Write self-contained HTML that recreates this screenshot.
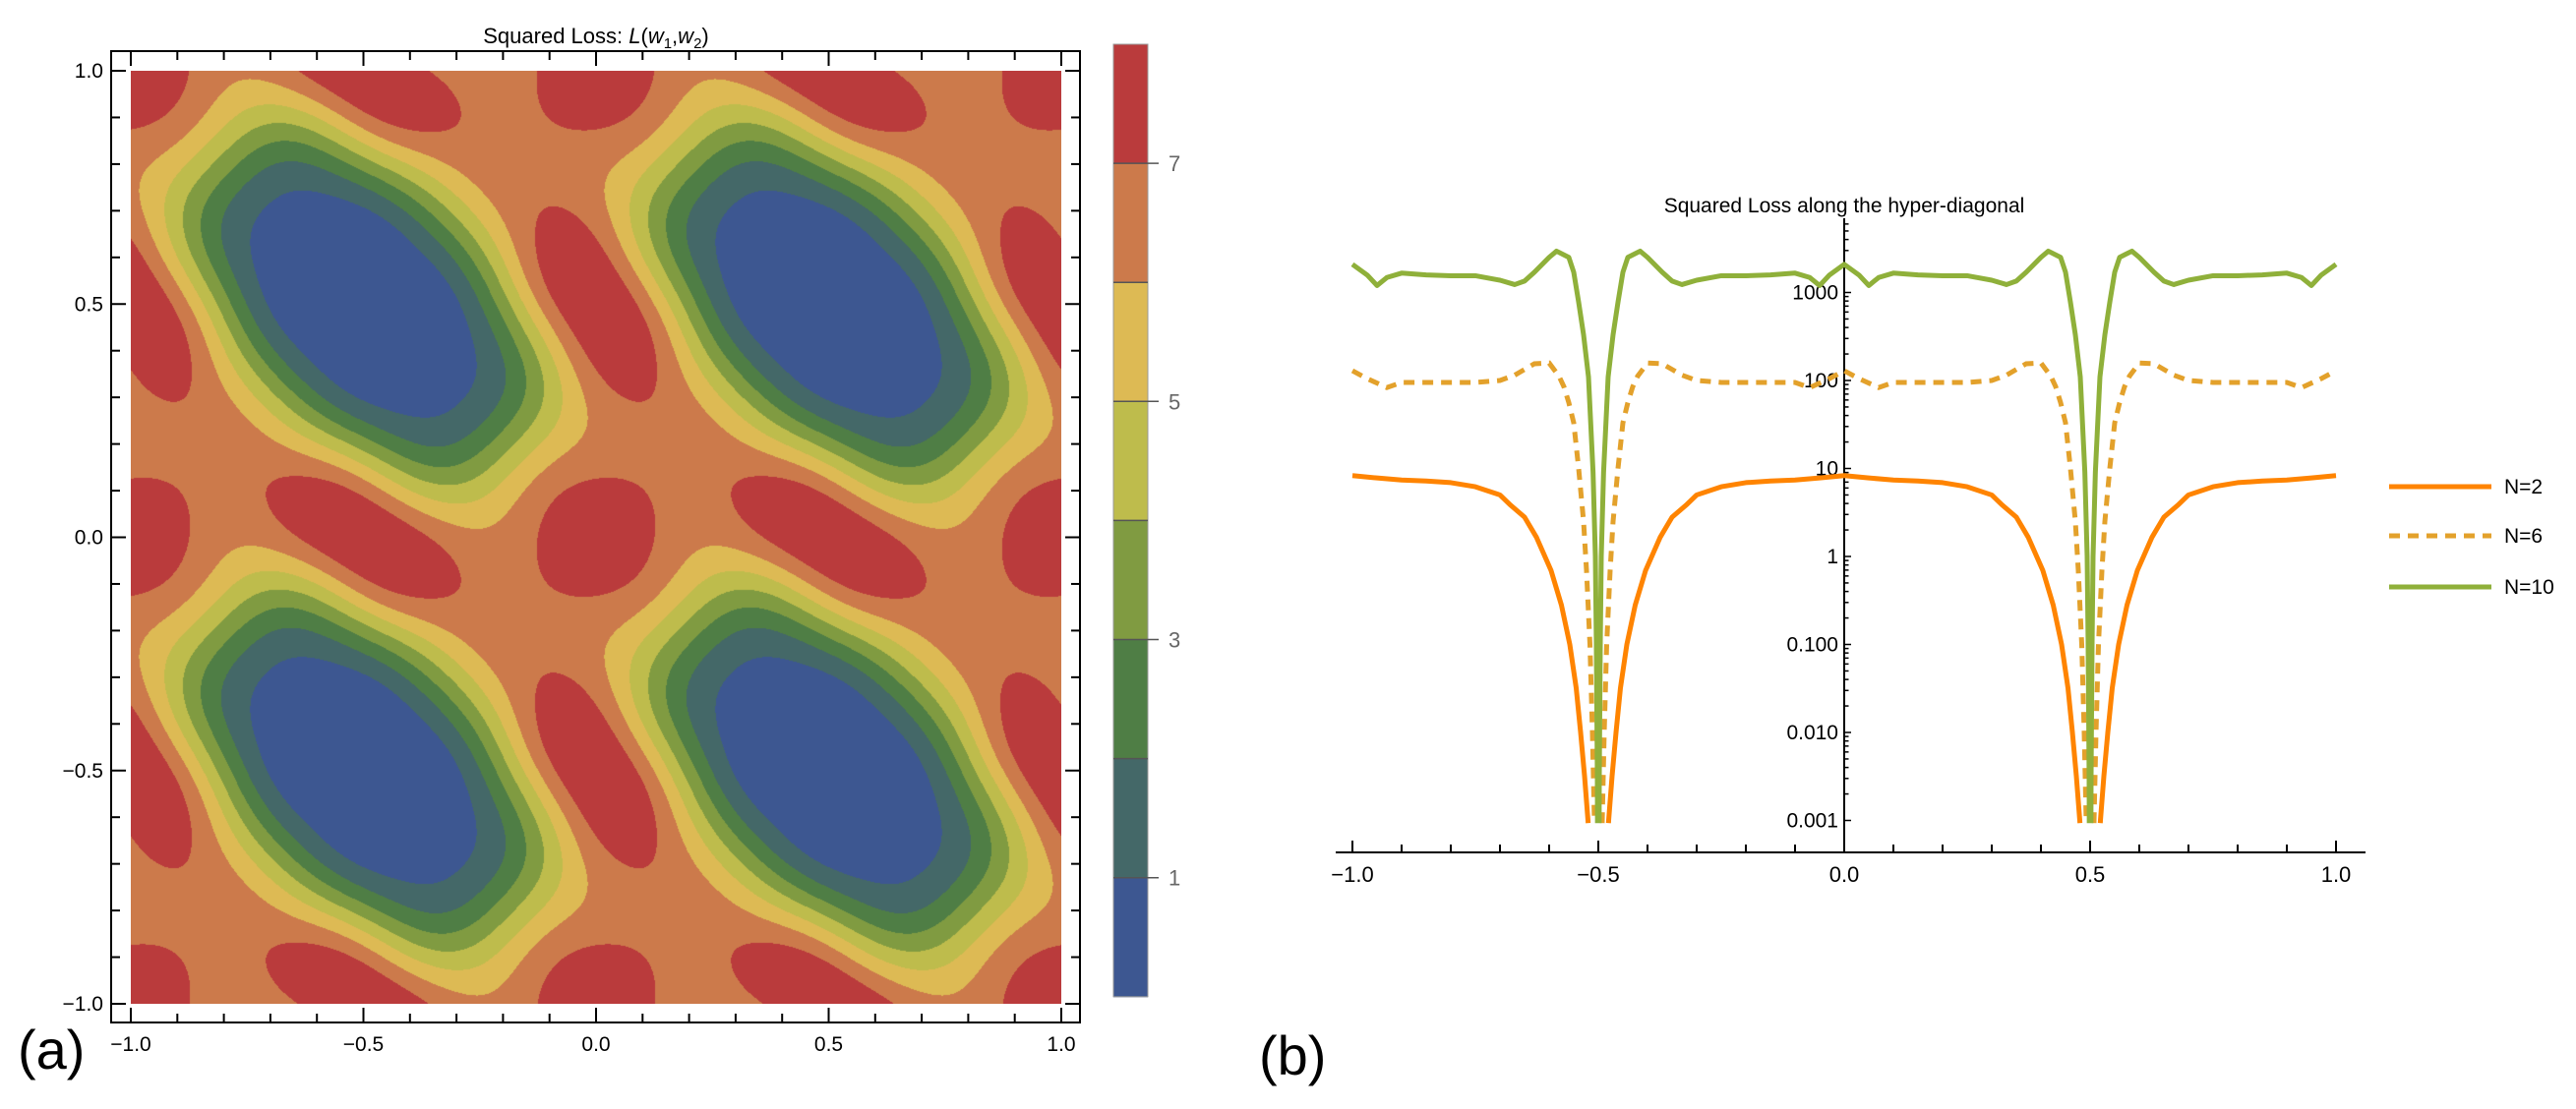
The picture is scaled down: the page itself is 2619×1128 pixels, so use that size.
<!DOCTYPE html>
<html><head><meta charset="utf-8">
<style>
html,body{margin:0;padding:0;background:#fff;}
#wrap{position:relative;width:2619px;height:1128px;overflow:hidden;font-family:"Liberation Sans",sans-serif;}
#contour{position:absolute;left:133px;top:72px;}
#svg{position:absolute;left:0;top:0;}
</style></head>
<body>
<div id="wrap">
<canvas id="contour" width="946" height="949"></canvas>
<svg id="svg" width="2619" height="1128" xmlns="http://www.w3.org/2000/svg"></svg>
</div>
<script>
// ---------- Panel (a) data: loss samples over one period (rows: w2 = 1 - j/8, cols: w1 = -1 + i/8)
const lossRow0 = [8.0, 6.7, 6.0, 7.1, 7.7, 7.2, 6.4, 7.1];
const lossRow1 = [7.0, 6.0, 4.0, 3.65, 6.2, 6.7, 6.7, 7.0];
const lossRow2 = [6.0, 3.5, 1.6, 1.0, 1.5, 4.7, 6.3, 7.0];
const lossRow3 = [7.2, 3.65, 1.0, 0.4, 0.4, 1.3, 2.4, 7.1];
const lossRow4 = [7.6, 6.2, 1.8, 0.4, 0.0, 0.4, 1.8, 6.9];
const lossRow5 = [7.4, 6.7, 4.7, 1.3, 0.4, 0.4, 1.2, 3.8];
const lossRow6 = [6.8, 6.6, 6.2, 4.0, 1.6, 1.2, 2.0, 4.8];
const lossRow7 = [7.0, 6.7, 6.8, 7.2, 6.9, 3.8, 4.8, 6.0];
const levelColors = ["#3D5791","#446868","#4F7E45","#809B41","#BEBC4C","#DDBA54","#CC7A4B","#BA3B3C"];
const colorbarTicks = [1, 3, 5, 7];

// ---------- Panel (b) data
const n2X = [-1,-0.95,-0.9,-0.85,-0.8,-0.75,-0.7,-0.68,-0.65,-0.626,-0.596,-0.575,-0.558,-0.545,-0.536,-0.528,-0.521,-0.515,-0.5,
 -0.485,-0.479,-0.472,-0.464,-0.455,-0.442,-0.425,-0.404,-0.374,-0.35,-0.32,-0.3,-0.25,-0.2,-0.15,-0.1,-0.05,0,
 0.05,0.1,0.15,0.2,0.25,0.3,0.32,0.35,0.374,0.404,0.425,0.442,0.455,0.464,0.472,0.479,0.485,0.5,
 0.515,0.521,0.528,0.536,0.545,0.558,0.575,0.596,0.626,0.65,0.68,0.7,0.75,0.8,0.85,0.9,0.95,1];
const n2Y = [8.3,7.8,7.4,7.2,6.9,6.2,5.0,3.9,2.8,1.66,0.69,0.28,0.1,0.032,0.01,0.0032,0.001,0.00025,1e-6,
 0.00025,0.001,0.0032,0.01,0.032,0.1,0.28,0.69,1.66,2.8,3.9,5.0,6.2,6.9,7.2,7.4,7.8,8.3,
 7.8,7.4,7.2,6.9,6.2,5.0,3.9,2.8,1.66,0.69,0.28,0.1,0.032,0.01,0.0032,0.001,0.00025,1e-6,
 0.00025,0.001,0.0032,0.01,0.032,0.1,0.28,0.69,1.66,2.8,3.9,5.0,6.2,6.9,7.2,7.4,7.8,8.3];
const n6X = [-1,-0.97,-0.93,-0.9,-0.85,-0.8,-0.75,-0.7,-0.67,-0.63,-0.6,-0.58,-0.57,-0.56,-0.55,-0.54,-0.53,-0.524,-0.517,-0.512,-0.508,-0.504,-0.5,
 -0.496,-0.492,-0.488,-0.483,-0.476,-0.47,-0.46,-0.45,-0.44,-0.43,-0.42,-0.4,-0.37,-0.33,-0.3,-0.25,-0.2,-0.15,-0.1,-0.07,-0.03,0,
 0.03,0.07,0.1,0.15,0.2,0.25,0.3,0.33,0.37,0.4,0.42,0.43,0.44,0.45,0.46,0.47,0.476,0.483,0.488,0.492,0.496,0.5,
 0.504,0.508,0.512,0.517,0.524,0.53,0.54,0.55,0.56,0.57,0.58,0.6,0.63,0.67,0.7,0.75,0.8,0.85,0.9,0.93,0.97,1];
const n6Y = [129,105,83,95,95,95,95,100,115,155,158,112,85,56,33,10,2.5,0.69,0.1,0.01,0.001,0.00003,1e-6,
 0.00003,0.001,0.01,0.1,0.69,2.5,10,33,56,85,112,158,155,115,100,95,95,95,95,83,105,129,
 105,83,95,95,95,95,100,115,155,158,112,85,56,33,10,2.5,0.69,0.1,0.01,0.001,0.00003,1e-6,
 0.00003,0.001,0.01,0.1,0.69,2.5,10,33,56,85,112,158,155,115,100,95,95,95,95,83,105,129];
const n10X = [-1,-0.97,-0.95,-0.93,-0.9,-0.85,-0.8,-0.75,-0.7,-0.67,-0.65,-0.63,-0.6,-0.585,-0.56,-0.55,-0.54,-0.53,-0.52,-0.5107,-0.506,-0.504,-0.502,-0.5,
 -0.498,-0.496,-0.494,-0.4893,-0.48,-0.47,-0.46,-0.45,-0.44,-0.415,-0.4,-0.37,-0.35,-0.33,-0.3,-0.25,-0.2,-0.15,-0.1,-0.07,-0.05,-0.03,0,
 0.03,0.05,0.07,0.1,0.15,0.2,0.25,0.3,0.33,0.35,0.37,0.4,0.415,0.44,0.45,0.46,0.47,0.48,0.4893,0.494,0.496,0.498,0.5,
 0.502,0.504,0.506,0.5107,0.52,0.53,0.54,0.55,0.56,0.585,0.6,0.63,0.65,0.67,0.7,0.75,0.8,0.85,0.9,0.93,0.95,0.97,1];
const n10Y = [2090,1580,1200,1480,1660,1585,1550,1550,1380,1230,1350,1700,2510,2950,2510,1700,776,331,110,9.1,1,0.1,0.0032,1e-6,
 0.0032,0.1,1,9.1,110,331,776,1700,2510,2950,2510,1700,1350,1230,1380,1550,1550,1585,1660,1480,1200,1580,2090,
 1580,1200,1480,1660,1585,1550,1550,1380,1230,1350,1700,2510,2950,2510,1700,776,331,110,9.1,1,0.1,0.0032,1e-6,
 0.0032,0.1,1,9.1,110,331,776,1700,2510,2950,2510,1700,1350,1230,1380,1550,1550,1585,1660,1480,1200,1580,2090];
const xTickValues = [-1,-0.5,0,0.5,1];
const xTickLabels = ["\u22121.0","\u22120.5","0.0","0.5","1.0"];
const logTickValues = [0.001,0.01,0.1,1,10,100,1000];
const logTickLabels = ["0.001","0.010","0.100","1","10","100","1000"];
const legendLabels = ["N=2","N=6","N=10"];

const NS = "http://www.w3.org/2000/svg";
const svg = document.getElementById('svg');
function mk(tag, attrs, parent) {
  const e = document.createElementNS(NS, tag);
  for (const k in attrs) e.setAttribute(k, attrs[k]);
  (parent || svg).appendChild(e);
  return e;
}

// ---------- Panel (a) contour rendering (low-pass Fourier interpolation of the periodic grid)
(function(){
  const A = [lossRow0,lossRow1,lossRow2,lossRow3,lossRow4,lossRow5,lossRow6,lossRow7];
  const S = [];
  for (let j=0;j<8;j++){ S.push([]); for (let i=0;i<8;i++){
    S[j].push((A[j][i]+A[i][j]+A[(8-j)%8][(8-i)%8]+A[(8-i)%8][(8-j)%8])/4);
  }}
  const freq = k => (k<=4?k:k-8);
  const wt = f => [1,1,1,0.55,0][Math.abs(f)];
  const Cr=[],Ci=[];
  for (let l=0;l<8;l++){ Cr.push([]);Ci.push([]); for (let k=0;k<8;k++){
    let sr=0,si=0;
    for (let j=0;j<8;j++) for (let i=0;i<8;i++){ const a=-2*Math.PI*(k*i+l*j)/8; sr+=S[j][i]*Math.cos(a); si+=S[j][i]*Math.sin(a); }
    Cr[l].push(sr/64); Ci[l].push(si/64);
  }}
  const cv = document.getElementById('contour');
  const W=cv.width, H=cv.height, ctx=cv.getContext('2d');
  const img = ctx.createImageData(W,H);
  const rgb = levelColors.map(c=>[parseInt(c.substr(1,2),16),parseInt(c.substr(3,2),16),parseInt(c.substr(5,2),16)]);
  const rowC=[], rowS=[];
  for (let py=0;py<H;py++){ const w2 = 1-2*(py+0.5)/H; const v=((1-w2)*8); const c=[],s=[];
    for (let l=0;l<8;l++){ const a=2*Math.PI*freq(l)*v/8; c.push(Math.cos(a)*wt(freq(l))); s.push(Math.sin(a)*wt(freq(l))); }
    rowC.push(c); rowS.push(s); }
  for (let px=0;px<W;px++){
    const w1 = -1+2*(px+0.5)/W; const u=(w1+1)*8;
    const Dr=[],Di=[];
    for (let l=0;l<8;l++){ let sr=0,si=0;
      for (let k=0;k<8;k++){ const f=freq(k), w=wt(f); if(!w) continue; const a=2*Math.PI*f*u/8, c=Math.cos(a)*w, s=Math.sin(a)*w;
        sr+=Cr[l][k]*c - Ci[l][k]*s; si+=Cr[l][k]*s + Ci[l][k]*c; }
      Dr.push(sr); Di.push(si); }
    for (let py=0;py<H;py++){
      const c=rowC[py], s=rowS[py]; let L=0;
      for (let l=0;l<8;l++) L+=Dr[l]*c[l]-Di[l]*s[l];
      let k=Math.floor(L); if(k<0)k=0; if(k>7)k=7;
      const o=(py*W+px)*4, col=rgb[k];
      img.data[o]=col[0]; img.data[o+1]=col[1]; img.data[o+2]=col[2]; img.data[o+3]=255;
    }
  }
  ctx.putImageData(img,0,0);
})();

// ---------- Panel (a) frame, ticks, labels
const ax = v => 133 + (v+1)/2*946;
const ay = v => 72 + (1-v)/2*949;
const gA = mk('g',{});


const frame = mk('rect',{x:113,y:52,width:985,height:988,fill:'none',stroke:'#000','stroke-width':2},gA);


for (let k=-10;k<=10;k++){
  const v=k/10, major=(k%5===0), len=major?15:9;
  const X=ax(v), Y=ay(v);
  mk('line',{x1:X,y1:1040,x2:X,y2:1040-len,stroke:'#000','stroke-width':2},gA);
  mk('line',{x1:X,y1:52,x2:X,y2:52+len,stroke:'#000','stroke-width':2},gA);
  mk('line',{x1:113,y1:Y,x2:113+len,y2:Y,stroke:'#000','stroke-width':2},gA);
  mk('line',{x1:1098,y1:Y,x2:1098-len,y2:Y,stroke:'#000','stroke-width':2},gA);
}
xTickValues.forEach((v,i)=>{
  const t=mk('text',{x:ax(v),y:1069,'text-anchor':'middle','font-size':21,fill:'#000'},gA);
  t.textContent=xTickLabels[i];
  
  
  const t2=mk('text',{x:105,y:ay(v)+7,'text-anchor':'end','font-size':21,fill:'#000'},gA);
  t2.textContent=xTickLabels[i];
  
  
});
const titleA = mk('text',{x:606,y:44,'text-anchor':'middle','font-size':22,fill:'#000'},gA);


titleA.innerHTML='Squared Loss: <tspan font-style="italic">L</tspan>(<tspan font-style="italic">w</tspan><tspan font-size="15" dy="5">1</tspan><tspan dy="-5">,</tspan><tspan font-style="italic">w</tspan><tspan font-size="15" dy="5">2</tspan><tspan dy="-5">)</tspan>';
const labA = mk('text',{x:18,y:1087,'font-size':56,fill:'#000'});
labA.textContent='(a)';



// colorbar
const gCB = mk('g',{});


const cbTop=45, cbBand=121.1;
levelColors.forEach((c,k)=>{
  const r=mk('rect',{x:1132,y:cbTop+(7-k)*cbBand,width:35,height:cbBand+0.5,fill:c},gCB);
  
  
});
mk('rect',{x:1132,y:cbTop,width:35,height:cbBand*8,fill:'none',stroke:'#999','stroke-width':1},gCB);
for (let k=1;k<8;k++){
  const Y=cbTop+(8-k)*cbBand;
  mk('line',{x1:1132,y1:Y,x2:(k%2===1)?1178:1167,y2:Y,stroke:'#555','stroke-width':1.5},gCB);
}
colorbarTicks.forEach(v=>{
  const t=mk('text',{x:1188,y:cbTop+(8-v)*cbBand+8,'font-size':22,fill:'#666'},gCB);
  t.textContent=String(v);
  
  
});

// ---------- Panel (b)
const bx = v => 1875 + v*500;
const by = v => 566 - 89.5*Math.log10(v);
const gB = mk('g',{});


const xAxis = mk('line',{x1:1358,y1:867,x2:2405,y2:867,stroke:'#000','stroke-width':2},gB);


const yAxis = mk('line',{x1:1875,y1:222,x2:1875,y2:867,stroke:'#000','stroke-width':2},gB);


for (let k=-10;k<=10;k++){
  const v=k/10, major=(k%5===0);
  mk('line',{x1:bx(v),y1:867,x2:bx(v),y2:867-(major?12:8),stroke:'#000','stroke-width':2},gB);
}
xTickValues.forEach((v,i)=>{
  const t=mk('text',{x:bx(v),y:897,'text-anchor':'middle','font-size':22,fill:'#000'},gB);
  t.textContent=xTickLabels[i];
  
  
});
for (let d=-3; d<=3; d++){
  for (let m=1;m<=9;m++){
    const v=m*Math.pow(10,d), Y=by(v);
    if (Y<224) continue;
    mk('line',{x1:1875,y1:Y,x2:1875+(m===1?7:4.5),y2:Y,stroke:'#000','stroke-width':1.5},gB);
  }
}
logTickValues.forEach((v,i)=>{
  const t=mk('text',{x:1869,y:by(v)+7,'text-anchor':'end','font-size':21,fill:'#000'},gB);
  t.textContent=logTickLabels[i];
  
  
});
const titleB = mk('text',{x:1875,y:216,'text-anchor':'middle','font-size':21,fill:'#000'},gB);
titleB.textContent='Squared Loss along the hyper-diagonal';



const minLog = -3.03;
function seriesPath(xs, ys){
  let d='', pen=false;
  for (let i=0;i<xs.length;i++){
    const lv=Math.log10(ys[i]);
    if (i>0){
      const lp=Math.log10(ys[i-1]);
      if ((lp>=minLog)!==(lv>=minLog)){
        const t=(minLog-lp)/(lv-lp), xc=xs[i-1]+t*(xs[i]-xs[i-1]);
        const P=[bx(xc), 566-89.5*minLog];
        if (pen){ d+=' L'+P[0].toFixed(2)+','+P[1].toFixed(2); pen=false; }
        else { d+=' M'+P[0].toFixed(2)+','+P[1].toFixed(2); pen=true; }
      }
    }
    if (lv>=minLog){
      const X=bx(xs[i]).toFixed(2), Y=(566-89.5*lv).toFixed(2);
      d+=(pen?' L':' M')+X+','+Y; pen=true;
    }
  }
  return d;
}
const p2 = mk('path',{d:seriesPath(n2X,n2Y),fill:'none',stroke:'#FF8400','stroke-width':5,'stroke-linejoin':'round'},gB);


const p6 = mk('path',{d:seriesPath(n6X,n6Y),fill:'none',stroke:'#E3A12B','stroke-width':5,'stroke-dasharray':'11 8'},gB);


const p10 = mk('path',{d:seriesPath(n10X,n10Y),fill:'none',stroke:'#8FB03A','stroke-width':5,'stroke-linejoin':'round'},gB);



// legend
const gL = mk('g',{});


const legY=[495,545,597], legStroke=['#FF8400','#E3A12B','#8FB03A'], legDash=['none','11 8','none'];
legendLabels.forEach((lab,i)=>{
  const l=mk('line',{x1:2429,y1:legY[i],x2:2533,y2:legY[i],stroke:legStroke[i],'stroke-width':5,'stroke-dasharray':legDash[i]},gL);
  
  
  const t=mk('text',{x:2546,y:legY[i]+7,'font-size':21,fill:'#000'},gL);
  t.textContent=lab;
  
  
});
const labB = mk('text',{x:1280,y:1093,'font-size':56,fill:'#000'});
labB.textContent='(b)';


</script>
</body></html>
